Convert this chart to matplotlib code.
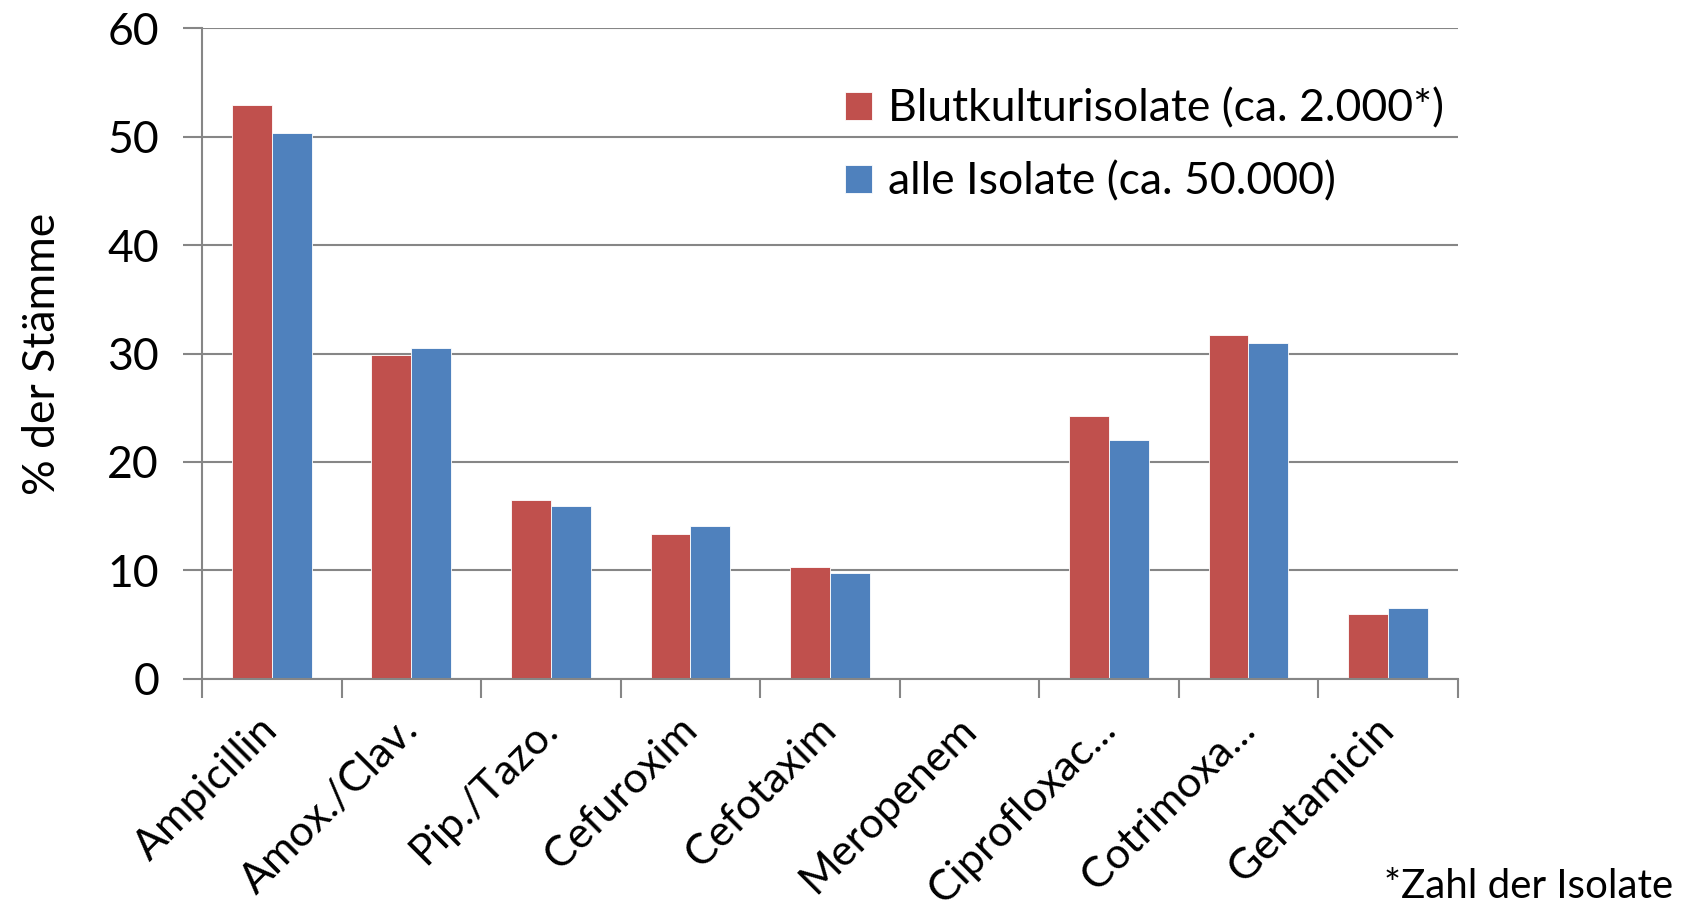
import matplotlib
matplotlib.use("Agg")
import matplotlib.pyplot as plt
import numpy as np

categories = ["Ampicillin", "Amox./Clav.", "Pip./Tazo.", "Cefuroxim", "Cefotaxim",
              "Meropenem", "Ciprofloxac...", "Cotrimoxa...", "Gentamicin"]
blut = [52.9, 29.9, 16.5, 13.4, 10.3, 0, 24.2, 31.7, 6.0]
alle = [50.3, 30.5, 15.9, 14.1, 9.8, 0, 22.0, 31.0, 6.5]
series_labels = ["Blutkulturisolate (ca. 2.000*)", "alle Isolate (ca. 50.000)"]
yticks = [0, 10, 20, 30, 40, 50, 60]

plt.rcParams['font.family'] = ['Lato', 'DejaVu Sans']

fig = plt.figure(figsize=(16.84, 9.09), dpi=100)
ax = fig.add_axes([0.120, 0.2532, 0.7456, 0.7158])

red = "#C0504D"
blue = "#4F81BD"
grid = "#868686"

x = np.arange(len(categories))
w = 1 / 3.5
ax.bar(x - w / 2, blut, width=w, color=red, edgecolor="white", linewidth=0.6, label=series_labels[0], zorder=3)
ax.bar(x + w / 2, alle, width=w, color=blue, edgecolor="white", linewidth=0.6, label=series_labels[1], zorder=3)

ax.set_xlim(-0.5, len(categories) - 0.5)
ax.set_ylim(0, 60)
ax.set_yticks(yticks)
ax.set_yticklabels([str(t) for t in yticks], fontsize=32)
ax.yaxis.grid(True, color=grid, linewidth=1.5, zorder=0)
ax.set_axisbelow(True)

for s in ["top", "right"]:
    ax.spines[s].set_visible(False)
for s in ["left", "bottom"]:
    ax.spines[s].set_color(grid)
    ax.spines[s].set_linewidth(1.5)
    ax.spines[s].set_zorder(4)

ax.tick_params(axis="y", length=14, width=1.5, color=grid, pad=17)
# category boundary ticks
ax.set_xticks(np.arange(len(categories) + 1) - 0.5)
ax.set_xticklabels([])
ax.tick_params(axis="x", length=14, width=1.5, color=grid)
ax.set_xticks(x, minor=True)
ax.set_xticklabels(categories, minor=True, rotation=45, ha="right", va="center",
                   rotation_mode="anchor", fontsize=31)
ax.tick_params(axis="x", which="minor", length=0, pad=32)

ax.set_ylabel("% der Stämme", fontsize=32, labelpad=32)

leg = ax.legend(loc="upper right", bbox_to_anchor=(1.003, 0.935), frameon=False, fontsize=32,
                handlelength=0.6, handleheight=0.6, handletextpad=0.35, labelspacing=0.72,
                borderaxespad=0)

fig.text(0.9935, 0.004, "*Zahl der Isolate", ha="right", va="bottom", fontsize=29)

fig.savefig("out.png", dpi=100)
